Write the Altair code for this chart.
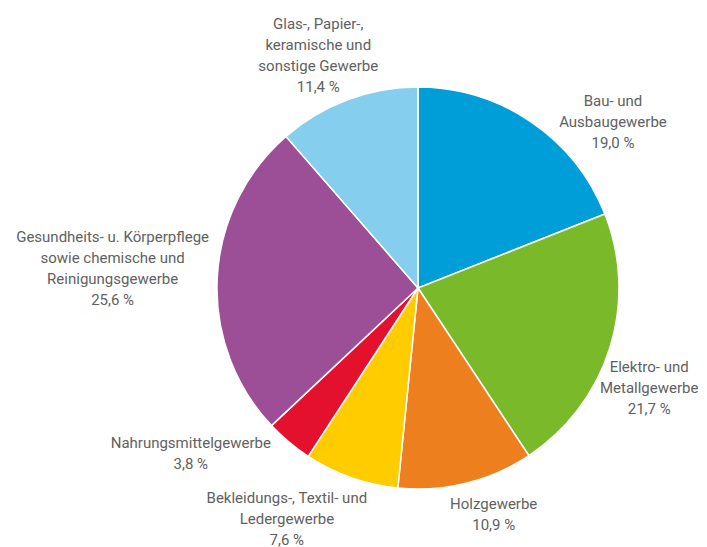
import math
import altair as alt
import pandas as pd

# --- data ---
categories = [
    "Bau- und Ausbaugewerbe",
    "Elektro- und Metallgewerbe",
    "Holzgewerbe",
    "Bekleidungs-, Textil- und Ledergewerbe",
    "Nahrungsmittelgewerbe",
    "Gesundheits- u. Körperpflege sowie chemische und Reinigungsgewerbe",
    "Glas-, Papier-, keramische und sonstige Gewerbe",
]
shares = [19.0, 21.7, 10.9, 7.6, 3.8, 25.6, 11.4]
label_lines = [
    ["Bau- und", "Ausbaugewerbe"],
    ["Elektro- und", "Metallgewerbe"],
    ["Holzgewerbe"],
    ["Bekleidungs-, Textil- und", "Ledergewerbe"],
    ["Nahrungsmittelgewerbe"],
    ["Gesundheits- u. Körperpflege", "sowie chemische und", "Reinigungsgewerbe"],
    ["Glas-, Papier-,", "keramische und", "sonstige Gewerbe"],
]

# --- style / layout ---
colors = ["#009ED8", "#7AB929", "#EE7F1E", "#FFCC00", "#E4112E", "#9C4F96", "#86CEEE"]
label_nudge_deg = [15.4, 6.0, -4.6, 10.1, 14.0, 0.7, -2.7]
label_radius = [256, 252, 239, 266, 281, 306, 253]
W, H = 560, 510
LINE_H = 21

total = sum(shares)
rows = []
cum = 0.0
for i, (c, v) in enumerate(zip(categories, shares)):
    mid = (cum + v / 2) / total * 2 * math.pi
    cum += v
    pct = f"{v:.1f}".replace(".", ",") + " %"
    lines = label_lines[i] + [pct]
    a = mid + math.radians(label_nudge_deg[i])
    r = label_radius[i]
    rows.append({
        "cat": c,
        "value": v,
        "order": i,
        "label": "\n".join(lines),
        "lx": W / 2 + r * math.sin(a),
        "ly": H / 2 - r * math.cos(a) - (len(lines) - 1) / 2 * LINE_H,
    })
df = pd.DataFrame(rows)

base = alt.Chart(df)

arcs = base.mark_arc(outerRadius=201, stroke="white", strokeWidth=1.5).encode(
    theta=alt.Theta("value:Q", stack=True),
    order=alt.Order("order:Q"),
    color=alt.Color("cat:N", scale=alt.Scale(domain=categories, range=colors), legend=None),
)

labels = base.mark_text(
    font="Roboto", fontSize=15, fontWeight="normal", color="#616161",
    align="center", baseline="middle", lineBreak="\n", lineHeight=LINE_H,
).encode(
    x=alt.X("lx:Q", scale=None, axis=None),
    y=alt.Y("ly:Q", scale=None, axis=None),
    text="label:N",
)

chart = alt.layer(arcs, labels).properties(
    width=W, height=H,
    autosize=alt.AutoSizeParams(type="none"),
    padding={"left": 130, "top": 25, "right": 1, "bottom": 4},
).configure_view(stroke=None)

chart.save("out.html", embed_options={"renderer": "svg", "actions": False})
